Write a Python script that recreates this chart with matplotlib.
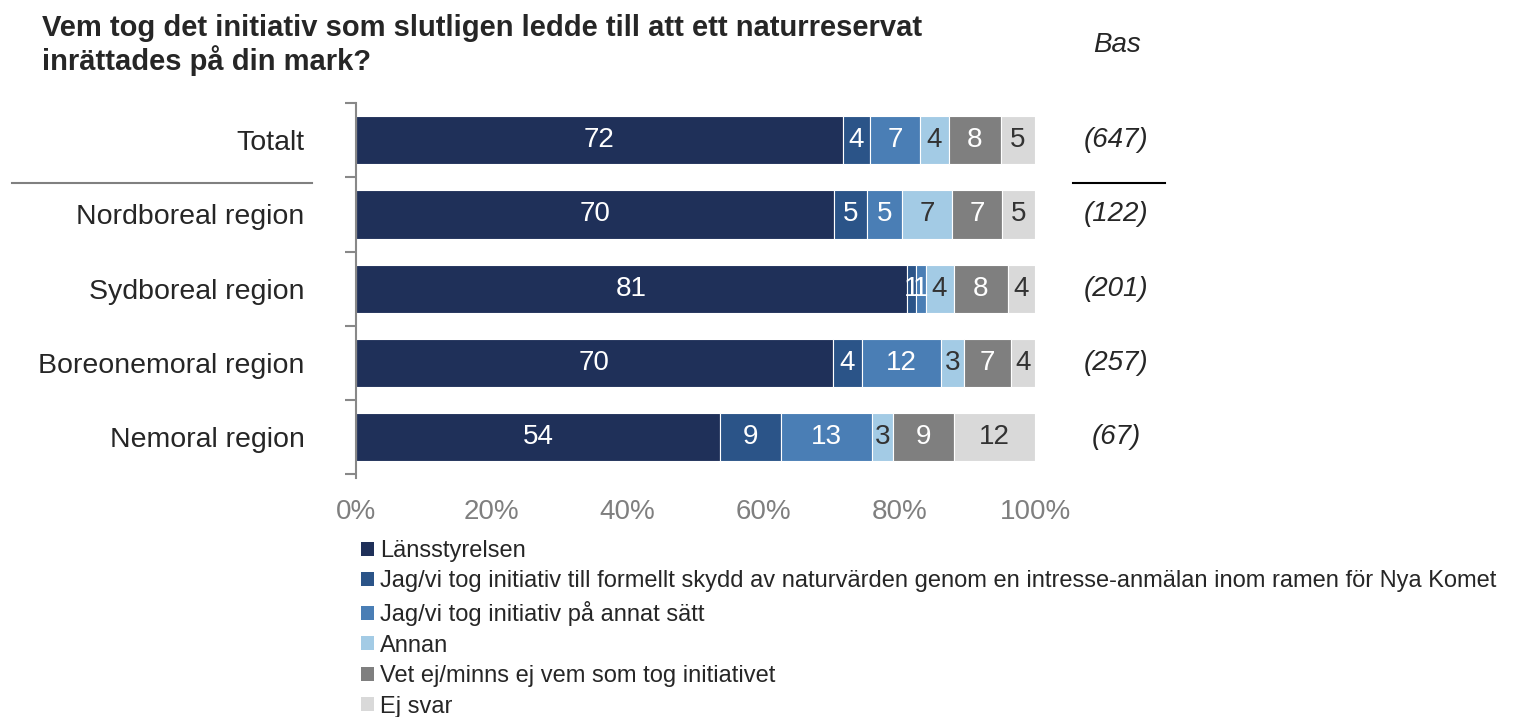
import numpy as np
import matplotlib.pyplot as plt
from matplotlib.patches import Patch

plt.rcParams['font.family'] = ['Liberation Sans', 'DejaVu Sans']

categories = ['Totalt', 'Nordboreal region', 'Sydboreal region',
              'Boreonemoral region', 'Nemoral region']
bases = ['(647)', '(122)', '(201)', '(257)', '(67)']
series = ['Länsstyrelsen',
          'Jag/vi tog initiativ till formellt skydd av naturvärden genom en intresse-anmälan inom ramen för Nya Komet',
          'Jag/vi tog initiativ på annat sätt',
          'Annan',
          'Vet ej/minns ej vem som tog initiativet',
          'Ej svar']
lansstyrelsen = [71.7, 70.4, 81.1, 70.2, 53.6]
nya_komet = [4.0, 4.9, 1.4, 4.3, 9.0]
annat_satt = [7.4, 5.1, 1.4, 11.7, 13.4]
annan = [4.2, 7.4, 4.1, 3.3, 3.1]
vet_ej = [7.7, 7.4, 8.0, 6.9, 9.0]
ej_svar = [5.0, 4.8, 4.0, 3.6, 11.9]

colors = ['#1F3059', '#2B5488', '#4A7EB5', '#A3CBE5', '#7F7F7F', '#D9D9D9']
text_colors = ['white', 'white', 'white', '#333333', 'white', '#333333']

W, H = 1522, 717
fig = plt.figure(figsize=(W/100, H/100), dpi=100)
ax = fig.add_axes([356/W, 1-478/H, 679/W, 375/H])

data = [lansstyrelsen, nya_komet, annat_satt, annan, vet_ej, ej_svar]
y = np.arange(len(categories))
left = np.zeros(len(categories))
for vals, col, tc, name in zip(data, colors, text_colors, series):
    vals = np.array(vals)
    bars = ax.barh(y, vals, left=left, height=0.65, color=col,
                   edgecolor='white', linewidth=0.8, label=name)
    ax.bar_label(bars, labels=['%.0f' % v for v in vals], label_type='center',
                 color=tc, fontsize=20)
    left += vals

ax.set_xlim(0, 100)
ax.set_ylim(4.55, -0.5)
ax.set_xticks(np.arange(0, 101, 20))
ax.set_xticklabels(['%d%%' % v for v in range(0, 101, 20)])
ax.tick_params(axis='x', length=0, labelsize=20, labelcolor='#7F7F7F', pad=15)
ax.set_yticks(y)
ax.set_yticklabels(categories)
ax.tick_params(axis='y', which='major', length=0, labelsize=20.5,
               labelcolor='#262626', pad=37)
ax.set_yticks(np.arange(-0.5, 5, 1), minor=True)
ax.tick_params(axis='y', which='minor', length=8, width=1.5, color='#888888')
for s in ['top', 'right', 'bottom']:
    ax.spines[s].set_visible(False)
ax.spines['left'].set_color('#888888')
ax.spines['left'].set_linewidth(1.5)

# bases on the right
for yi, b in zip(y, bases):
    ax.text(1.12, yi, b, transform=ax.get_yaxis_transform(), ha='center',
            va='center', fontsize=20, style='italic', color='#262626')
fig.text(1117/W, 1-45/H, 'Bas', ha='center', va='center', fontsize=20,
         style='italic', color='#262626')

# separator lines under Totalt
fig.add_artist(plt.Line2D([12/W, 312/W], [1-183/H, 1-183/H],
                          color='#808080', lw=1.5))
fig.add_artist(plt.Line2D([1073/W, 1165/W], [1-183/H, 1-183/H],
                          color='black', lw=1.5))

fig.text(42/W, 1-28/H,
         'Vem tog det initiativ som slutligen ledde till att ett naturreservat',
         ha='left', va='center', fontsize=21, fontweight='bold', color='#262626')
fig.text(42/W, 1-61/H, 'inrättades på din mark?',
         ha='left', va='center', fontsize=21, fontweight='bold', color='#262626')

handles = [Patch(facecolor=c, edgecolor='none') for c in colors]
leg = fig.legend(handles, series, loc='upper left',
                 bbox_to_anchor=(361/W, 1-540/H), frameon=False,
                 fontsize=17, handlelength=0.55, handleheight=0.55,
                 handletextpad=0.25, labelspacing=0.36, borderpad=0,
                 borderaxespad=0)
for t in leg.get_texts():
    t.set_color('#262626')

fig.savefig('out.png', dpi=100)
